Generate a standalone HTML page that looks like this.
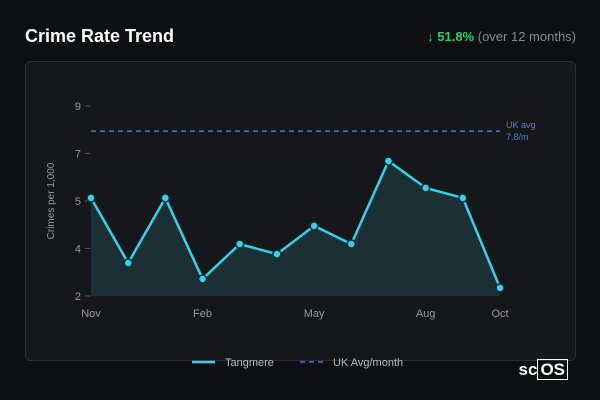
<!DOCTYPE html>
<html><head><meta charset="utf-8"><style>
body{margin:0;width:600px;height:400px;background:#0e0f12;font-family:"Liberation Sans",sans-serif;overflow:hidden;position:relative}
.t{position:absolute;left:25px;top:26px;color:#fff;font-size:18px;font-weight:bold}
.s{position:absolute;right:24px;top:29px;color:#888;font-size:13px}
.s b{color:#2ecc71}
.card{position:absolute;left:25px;top:61px;width:549px;height:298px;border:1px solid #2e3036;border-radius:6px;background:#16171b}
svg{position:absolute;left:0;top:0}
.logo{position:absolute;right:32px;top:360px;color:#fff;font-size:17px;font-weight:bold}
</style></head><body>
<div class="t">Crime Rate Trend</div>
<div class="s"><b>↓ 51.8%</b> (over 12 months)</div>
<div class="card"></div>
<svg id="c" width="600" height="400"></svg>
<div class="logo">sc<span style="border:1px solid #fff;color:#fff;padding:0 2px">OS</span></div>
<script>
const months=["Nov","Dec","Jan","Feb","Mar","Apr","May","Jun","Jul","Aug","Sep","Oct"];
const values=[5.41,3.08,5.41,2.51,3.76,3.40,4.41,3.76,6.73,5.77,5.41,2.19];
const ukAvg=7.8;
const yTicks=[1.9,3.6,5.3,7.0,8.7];
const xLabelIdx=[0,3,6,9,11];
const NS="http://www.w3.org/2000/svg",svg=document.getElementById('c');
const x=i=>91+i*(409/11), y=v=>296-(v-1.9)/6.8*190;
function el(t,a,txt){const e=document.createElementNS(NS,t);for(const k in a)e.setAttribute(k,a[k]);if(txt!=null)e.textContent=txt;svg.appendChild(e);return e;}
yTicks.forEach(v=>{
 const t=el('text',{x:81,y:y(v)+4,'text-anchor':'end',fill:'#999','font-size':11},Math.round(v));
 
 const l=el('line',{x1:85,x2:90,y1:y(v),y2:y(v),stroke:'#555'});
 
});
xLabelIdx.forEach(i=>{
 const t=el('text',{x:x(i),y:317,'text-anchor':'middle',fill:'#999','font-size':11},months[i]);
 
});
const yt=el('text',{x:0,y:0,transform:'translate(54,201) rotate(-90)','text-anchor':'middle',fill:'#999','font-size':10},'Crimes per 1,000');

const ul=el('line',{x1:91,x2:500,y1:y(ukAvg),y2:y(ukAvg),stroke:'#3d7be8','stroke-width':1.5,'stroke-dasharray':'5,4'});

const u1=el('text',{x:506,y:y(ukAvg)-3,fill:'#4a7fe0','font-size':9},'UK avg');

const u2=el('text',{x:506,y:y(ukAvg)+9,fill:'#4a7fe0','font-size':9},ukAvg+'/m');

let d=values.map((v,i)=>(i?'L':'M')+x(i)+','+y(v)).join('');
const a=el('path',{d:d+'L'+x(11)+',296L91,296Z',fill:'#1e3a3f','fill-opacity':0.7});

const p=el('path',{d:d,fill:'none',stroke:'#2fd3ea','stroke-width':2.5,'stroke-linejoin':'round'});

values.forEach((v,i)=>{
 const c=el('circle',{cx:x(i),cy:y(v),r:4,fill:'#2fd3ea',stroke:'#0e2a30','stroke-width':1.5});
 
});
const l1=el('line',{x1:192,x2:215,y1:362,y2:362,stroke:'#2fd3ea','stroke-width':2.5});

const lt1=el('text',{x:225,y:366,fill:'#bbb','font-size':11},'Tangmere');

const l2=el('line',{x1:300,x2:323,y1:362,y2:362,stroke:'#3d7be8','stroke-width':1.5,'stroke-dasharray':'5,4'});

const lt2=el('text',{x:333,y:366,fill:'#bbb','font-size':11},'UK Avg/month');

</script>
</body></html>
